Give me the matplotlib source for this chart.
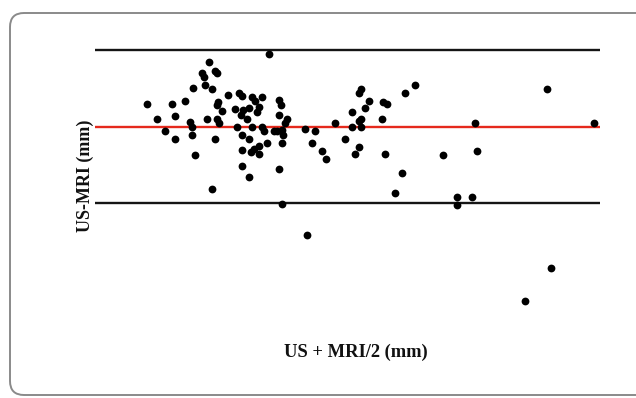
import matplotlib
matplotlib.use("Agg")
import matplotlib.pyplot as plt
from matplotlib.patches import FancyBboxPatch

# Bland-Altman data: mean of US and MRI (mm) vs. difference US-MRI (mm)
mean_mm = [26.9, 20.9, 20.2, 20.4, 21.5, 21.7, 20.5, 19.3, 21.2, 14.7,
           17.2, 18.5, 21.8, 21.7, 22.8, 23.9, 24.2, 25.2, 25.5, 26.2,
           27.9, 28.1, 22.2, 23.5, 24.3, 24.9, 25.9, 25.7, 24.1, 17.5,
           15.7, 19.0, 20.7, 21.7, 21.9, 24.7, 27.9, 28.5, 28.7, 19.2,
           23.7, 25.2, 26.2, 26.4, 16.5, 27.4, 27.7, 28.2, 28.3, 19.2,
           17.5, 21.5, 24.2, 24.9, 26.7, 28.2, 25.9, 24.2, 25.1, 25.4,
           25.9, 19.5, 24.2, 27.9, 24.9, 21.2, 28.2, 30.5, 31.5, 31.2,
           32.2, 32.6, 33.5, 34.5, 35.2, 35.2, 35.5, 35.9, 35.9, 36.1,
           36.5, 36.9, 35.9, 36.1, 36.1, 38.3, 38.7, 38.2, 38.5, 40.5,
           41.5, 40.2, 39.5, 30.7, 44.3, 45.7, 45.7, 47.2, 47.5, 47.7,
           54.7, 59.4, 55.1, 52.5]
diff_mm = [3.65, 3.25, 2.69, 2.52, 2.82, 2.72, 2.12, 1.95, 1.92, 1.15,
           1.15, 1.32, 1.25, 1.12, 1.62, 1.72, 1.55, 1.49, 1.32, 1.52,
           1.35, 1.09, 0.79, 0.92, 0.85, 0.95, 0.99, 0.75, 0.62, 0.55,
           0.39, 0.25, 0.39, 0.39, 0.22, 0.39, 0.59, 0.20, 0.42, -0.02,
           -0.02, -0.02, -0.02, -0.19, -0.19, -0.19, -0.19, -0.15, -0.42, -0.39,
           -0.59, -0.59, -0.39, -0.59, -0.79, -0.79, -0.95, -1.17, -1.25, -1.09,
           -1.37, -1.39, -1.95, -2.12, -2.52, -3.09, -3.85, -0.12, -0.19, -0.79,
           -1.19, -1.62, 0.19, -0.59, 0.75, -0.02, -1.35, -0.99, 1.72, 1.92,
           0.95, 1.32, 0.32, 0.42, 0.02, 1.25, 1.15, 0.39, -1.35, 1.72,
           2.12, -2.32, -3.29, -5.42, -1.42, -3.49, -3.89, -3.49, 0.19, -1.19,
           1.92, 0.19, -7.05, -8.69]

mean_diff = 0.0
upper_loa = 3.85
lower_loa = -3.80
line_x = [9.5, 60.0]

W, H = 636, 398
fig = plt.figure(figsize=(W / 100, H / 100), dpi=100)
fig.patch.set_facecolor("white")

# background frame in pixel coordinates
bg = fig.add_axes([0, 0, 1, 1])
bg.set_xlim(0, W)
bg.set_ylim(H, 0)
bg.axis("off")
frame = FancyBboxPatch((10, 13), 640, 382,
                       boxstyle="round,pad=0,rounding_size=14",
                       linewidth=1.4, edgecolor="#8a8a8a", facecolor="white")
bg.add_patch(frame)

ax = fig.add_axes([0, 0, 1, 1])
ax.set_xlim(0, 63.6)
ax.set_ylim(-13.55, 6.35)
ax.axis("off")
ax.patch.set_alpha(0)

ax.plot(line_x, [upper_loa, upper_loa], color="#151515", lw=1.7, solid_capstyle="butt")
ax.plot(line_x, [lower_loa, lower_loa], color="#151515", lw=1.7, solid_capstyle="butt")
ax.plot(line_x, [mean_diff, mean_diff], color="#e5291c", lw=1.7, solid_capstyle="butt")
ax.plot(mean_mm, diff_mm, "o", color="black", ms=5.6, mec="black", mew=0, zorder=5)

serif = ["Liberation Serif", "DejaVu Serif"]
fig.text(356 / W, 1 - 352 / H, "US + MRI/2 (mm)", ha="center", va="center",
         fontsize=13.3, fontweight="bold", family=serif, color="#111111")
fig.text(85 / W, 1 - 176 / H, "US-MRI (mm)", ha="center", va="center",
         rotation=90, fontsize=13.0, fontweight="bold", family=serif, color="#111111")

fig.savefig("out.png", dpi=100)
